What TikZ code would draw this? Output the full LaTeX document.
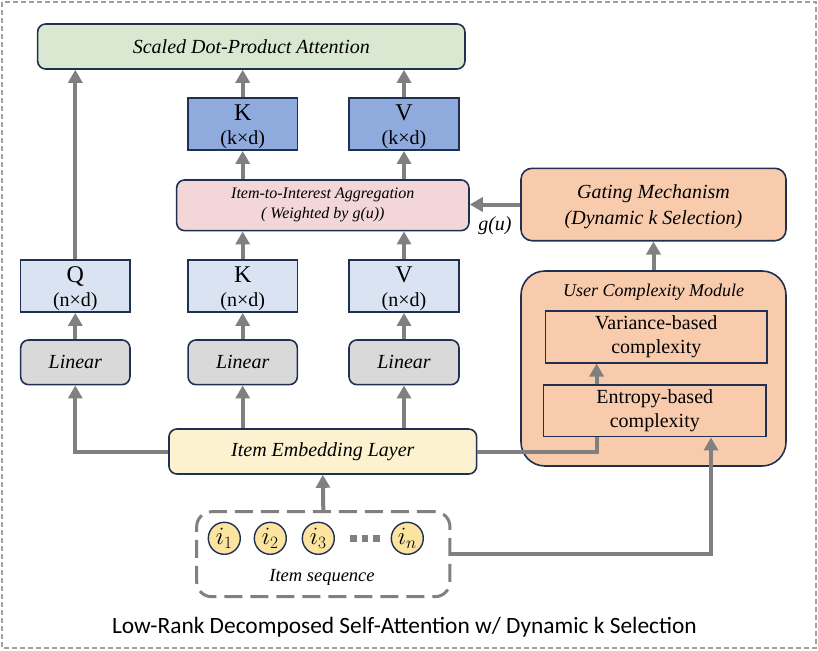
\documentclass[tikz,border=0pt]{standalone}
\usepackage{fontspec}
\setmainfont{Liberation Serif}
\newfontfamily\capfont{Carlito}
\usetikzlibrary{arrows.meta,calc}
\definecolor{navy}{HTML}{1F3050}
\definecolor{arr}{HTML}{808080}
\definecolor{fgreen}{HTML}{DAE8D2}
\definecolor{fdblue}{HTML}{8FAADC}
\definecolor{flblue}{HTML}{DAE3F2}
\definecolor{fpink}{HTML}{F2D6D8}
\definecolor{fgray}{HTML}{D9D9D9}
\definecolor{fyellow}{HTML}{FDF2CF}
\definecolor{forange}{HTML}{F8CBAD}
\definecolor{fcirc}{HTML}{FBE3A0}
\tikzset{
  box/.style={draw=navy,line width=1.6pt,inner sep=0pt,align=center},
  rbox/.style={box,rounded corners=8pt},
  mat/.style={box,minimum height=52.3pt,font=\fontsize{20}{24}\selectfont},
  flow/.style={draw=arr,line width=4pt,-{Triangle[width=14pt,length=13pt]}},
  plain/.style={draw=arr,line width=4pt},
  itemc/.style={circle,draw=navy,line width=1.4pt,fill=fcirc,minimum size=32pt,inner sep=0pt,font=\fontsize{23}{23}\selectfont},
}
\newcommand{\mbigletter}[1]{{\fontsize{24}{24}\selectfont\rule{0pt}{22pt}#1}}
\begin{document}
\begin{tikzpicture}[x=1pt,y=-1pt]
\useasboundingbox (0,0) rectangle (818,650);
\draw[draw=gray!75,line width=1.2pt,dash pattern=on 5pt off 3pt] (2,2) rectangle (816,648);

% top
\node[rbox,fill=fgreen,minimum width=427.3pt,minimum height=45pt,font=\fontsize{20}{22}\selectfont\itshape] (sdp) at (251.3,46.5) {Scaled Dot-Product Attention};
\node[mat,fill=fdblue,minimum width=109.3pt] (Kt) at (242.7,124) {\mbigletter{K}\\(k×d)};
\node[mat,fill=fdblue,minimum width=110pt] (Vt) at (404,124) {\mbigletter{V}\\(k×d)};
\node[rbox,fill=fpink,minimum width=292.3pt,minimum height=50.7pt,font=\fontsize{16}{20}\selectfont\itshape] (agg) at (322.8,205.3) {Item-to-Interest Aggregation\\( Weighted by g(u))};

\node[mat,fill=flblue,minimum width=109.3pt] (Q) at (75.3,286) {\mbigletter{Q}\\(n×d)};
\node[mat,fill=flblue,minimum width=109.3pt] (K) at (242.7,286) {\mbigletter{K}\\(n×d)};
\node[mat,fill=flblue,minimum width=110pt] (V) at (404,286) {\mbigletter{V}\\(n×d)};

\node[rbox,fill=fgray,minimum width=109.3pt,minimum height=44.7pt,font=\fontsize{20}{22}\selectfont\itshape] (L1) at (75.3,362.3) {Linear};
\node[rbox,fill=fgray,minimum width=109.3pt,minimum height=44.7pt,font=\fontsize{20}{22}\selectfont\itshape] (L2) at (242.7,362.3) {Linear};
\node[rbox,fill=fgray,minimum width=110pt,minimum height=44.7pt,font=\fontsize{20}{22}\selectfont\itshape] (L3) at (404,362.3) {Linear};

\node[rbox,fill=fyellow,minimum width=307.7pt,minimum height=45pt,font=\fontsize{20}{22}\selectfont\itshape] (emb) at (322.8,451.5) {Item Embedding Layer};

% item sequence
\node[draw=arr,line width=3pt,dash pattern=on 18pt off 8pt,rounded corners=15pt,minimum width=253.3pt,minimum height=85pt] (seq) at (323.3,554.2) {};
\node[itemc] (i1) at (224.3,538.3) {$i_1$};
\node[itemc] (i2) at (270.3,538.3) {$i_2$};
\node[itemc] (i3) at (318.3,538.3) {$i_3$};
\node[itemc] (in) at (407.3,538.3) {$i_n$};
\draw[arr,line width=6.5pt,dash pattern=on 6.5pt off 5pt] (350,538.3) -- (380,538.3);
\node[font=\fontsize{18.5}{20}\selectfont\itshape] (seqlab) at (322,577.5) {Item sequence};

% right side
\node[box,rounded corners=11pt,fill=forange,minimum width=265pt,minimum height=72.4pt,font=\fontsize{20}{26}\selectfont\itshape] (gate) at (653.5,204.5) {\rule{0pt}{19pt}Gating Mechanism\\(Dynamic k Selection)};
\node[box,rounded corners=24pt,fill=forange,minimum width=265pt,minimum height=195pt] (ucm) at (653.5,368.5) {};
\node[font=\fontsize{18}{20}\selectfont\itshape] (ucmlab) at (653.5,292) {User Complexity Module};
\node[box,fill=forange,minimum width=221.3pt,minimum height=52pt,font=\fontsize{20}{24}\selectfont] (var) at (656.3,336.7) {Variance-based\\complexity};
\node[box,fill=forange,minimum width=222.3pt,minimum height=51.7pt,font=\fontsize{20}{24}\selectfont] (ent) at (654.8,410.8) {Entropy-based\\complexity};

% connectors
\draw[flow] (seq.north) -- (emb.south);
\draw[flow] (emb.west) -| (L1.south);
\draw[flow] (emb.north -| L2.south) -- (L2.south);
\draw[flow] (emb.north -| L3.south) -- (L3.south);
\draw[flow] (L1.north) -- (Q.south);
\draw[flow] (L2.north) -- (K.south);
\draw[flow] (L3.north) -- (V.south);
\draw[flow] (Q.north) -- (Q.north |- sdp.south);
\draw[flow] (K.north) -- (K.north |- agg.south);
\draw[flow] (V.north) -- (V.north |- agg.south);
\draw[flow] (agg.north -| Kt.south) -- (Kt.south);
\draw[flow] (agg.north -| Vt.south) -- (Vt.south);
\draw[flow] (Kt.north) -- (Kt.north |- sdp.south);
\draw[flow] (Vt.north) -- (Vt.north |- sdp.south);

\coordinate (entin) at ($(ent.south west)!0.24!(ent.south east)$);
\coordinate (entout) at ($(ent.north west)!0.24!(ent.north east)$);
\coordinate (entin2) at ($(ent.south west)!0.751!(ent.south east)$);
\draw[plain] (emb.east) -| (entin);
\draw[flow] (entout) -- (entout |- var.south);
\draw[flow] (seq.east) -| (entin2);
\draw[flow] (ucm.north) -- (gate.south);
\draw[flow] (gate.west) -- (gate.west -| agg.east) node[midway,below=7pt,font=\fontsize{20}{20}\selectfont\itshape] (gu) {g(u)};

\node[font=\capfont\fontsize{23.4}{26}\selectfont] (cap) at (404.5,627) {Low-Rank Decomposed Self-Attention w/ Dynamic k Selection};
\end{tikzpicture}
\end{document}
